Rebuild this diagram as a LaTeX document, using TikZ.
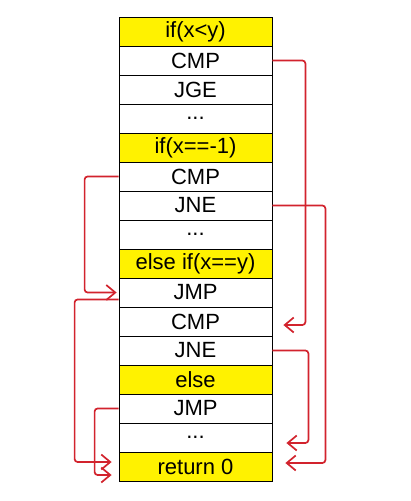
\documentclass[tikz,border=0pt]{standalone}
\usepackage{fontspec}
\setmainfont{Liberation Sans}
\usetikzlibrary{arrows.meta}
\definecolor{penred}{RGB}{210,35,45}

\begin{document}
\begin{tikzpicture}[x=1pt, y=-1pt,
	cell/.style={rectangle,draw,line width=0.8pt,minimum width=153pt,minimum height=29pt,inner sep=0pt,font=\fontsize{22}{24}\selectfont},
	head/.style={cell,fill=yellow},
	jump/.style={draw=penred,line width=1.7pt,rounded corners=3pt,-{Straight Barb[length=9pt,width=15pt]}}]
		\useasboundingbox (0, 0) rectangle (410, 501);

		\node[head] (ifa) at (195.5, 31.5) {if(x<y)};
		\node[cell] (cmpa) at (195.5, 60.5) {CMP};
		\node[cell] (jge) at (195.5, 89.5) {JGE};
		\node[cell] (dota) at (195.5, 118.5) {...};
		\node[head] (ifb) at (195.5, 147.5) {if(x==-1)};
		\node[cell] (cmpb) at (195.5, 176.5) {CMP};
		\node[cell] (jneb) at (195.5, 205.5) {JNE};
		\node[cell] (dotb) at (195.5, 234.5) {...};
		\node[head] (elif) at (195.5, 263.5) {else if(x==y)};
		\node[cell] (jmpa) at (195.5, 292.5) {JMP};
		\node[cell] (cmpc) at (195.5, 321.5) {CMP};
		\node[cell] (jnec) at (195.5, 350.5) {JNE};
		\node[head] (els) at (195.5, 379.5) {else};
		\node[cell] (jmpb) at (195.5, 408.5) {JMP};
		\node[cell] (dotc) at (195.5, 437.5) {...};
		\node[head] (ret) at (195.5, 466.5) {return 0};

		% jumps on the right
		\draw[jump] (cmpa.east) -- ++(33, 0) |- ([xshift=11pt,yshift=-3.5pt]cmpc.east);
		\draw[jump] (jneb.east) -- ++(53, 0) |- ([xshift=13pt,yshift=3.5pt]ret.east);
		\draw[jump] (jnec.east) -- ++(36, 0) |- ([xshift=14pt,yshift=-5.5pt]dotc.east);

		% jumps on the left
		\draw[jump] (cmpb.west) -- ++(-34, 0) |- ([xshift=-2pt]jmpa.west);
		\draw[jump] ([yshift=-7pt]jmpa.west) -- ++(-44, 0) |- ([xshift=-7pt,yshift=4.5pt]ret.west);
		\draw[jump] (jmpb.west) -- ++(-24, 0) |- ([xshift=-7pt,yshift=-8.5pt]ret.west);
\end{tikzpicture}
\end{document}
